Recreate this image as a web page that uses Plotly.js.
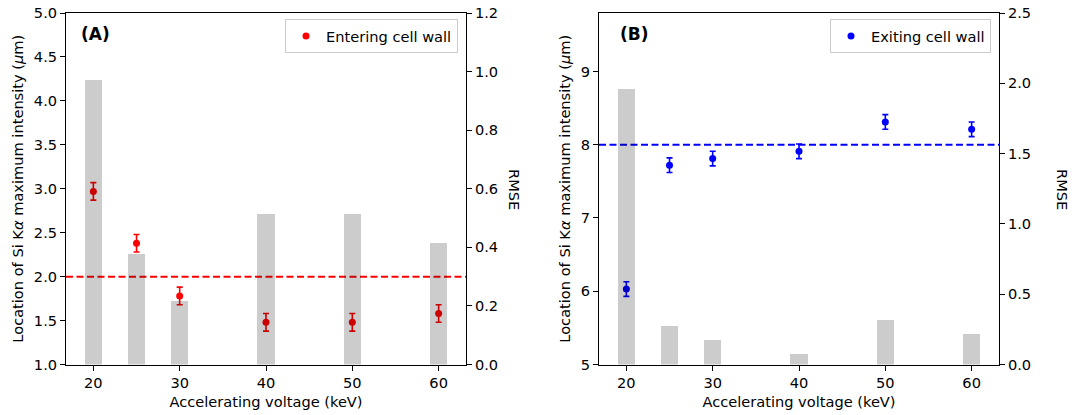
<!DOCTYPE html>
<html>
<head>
<meta charset="utf-8">
<script src="https://cdn.plot.ly/plotly-3.0.1.min.js"></script>
<style>html,body{margin:0;padding:0;background:#fff;}#chart{width:1080px;height:415px;}</style>
</head>
<body>
<div id="chart"></div>
<script>
// ---- data ----
const voltages = [20, 25, 30, 40, 50, 60];
const xTicks = [20, 30, 40, 50, 60];
const enterPeak = [2.97, 2.38, 1.78, 1.48, 1.48, 1.58];
const enterErr = [0.1, 0.1, 0.1, 0.1, 0.1, 0.1];
const enterRmse = [0.97, 0.377, 0.216, 0.513, 0.513, 0.414];
const exitPeak = [6.03, 7.72, 7.81, 7.91, 8.31, 8.21];
const exitErr = [0.1, 0.1, 0.1, 0.1, 0.1, 0.1];
const exitRmse = [1.96, 0.273, 0.173, 0.073, 0.315, 0.216];
const enterRef = 2.0;
const exitRef = 8.0;
const enterName = "Entering cell wall";
const exitName = "Exiting cell wall";

// ---- style ----
const FONT = "DejaVu Sans, sans-serif";
const FS = 14.6;
const barColor = "rgba(0,0,0,0.2)";
const W = 1080, H = 415;
const px = v => v / W;
const py = v => 1 - v / H;

const xDomA = [px(66), px(466)];
const xDomB = [px(599), px(999)];
const yDom = [py(364.5), py(13)];

const traces = [
  {x: voltages, y: enterPeak, type: "scatter", mode: "markers", name: enterName,
   xaxis: "x", yaxis: "y", legend: "legend",
   marker: {color: "#ff0000", size: 7},
   error_y: {type: "data", array: enterErr, visible: true, color: "#ff0000", thickness: 1.6, width: 3}},
  {x: voltages, y: enterRmse, type: "bar", width: 2, showlegend: false,
   xaxis: "x", yaxis: "y2", marker: {color: barColor, line: {width: 0}}},
  {x: voltages, y: exitPeak, type: "scatter", mode: "markers", name: exitName,
   xaxis: "x2", yaxis: "y3", legend: "legend2",
   marker: {color: "#0000ff", size: 7},
   error_y: {type: "data", array: exitErr, visible: true, color: "#0000ff", thickness: 1.6, width: 3}},
  {x: voltages, y: exitRmse, type: "bar", width: 2, showlegend: false,
   xaxis: "x2", yaxis: "y4", marker: {color: barColor, line: {width: 0}}}
];

const common = {
  showgrid: false, zeroline: false, showline: true, linecolor: "#000", linewidth: 1,
  ticks: "outside", ticklen: 5, tickwidth: 1, tickcolor: "#000",
  tickfont: {family: FONT, size: FS, color: "#000"}, automargin: false
};
const xCommon = Object.assign({}, common, {
  range: [16.83, 63.17], tickmode: "array", tickvals: xTicks, mirror: true,
  title: {text: "Accelerating voltage (keV)", font: {family: FONT, size: FS, color: "#000"}, standoff: 6}
});
const yTitle = "Location of Si K<i>α</i> maximum intensity (<i>μ</i>m)";

const layout = {
  width: W, height: H,
  margin: {l: 0, r: 0, t: 0, b: 0},
  paper_bgcolor: "#fff", plot_bgcolor: "rgba(0,0,0,0)",
  font: {family: FONT, size: FS, color: "#000"},
  bargap: 0,
  xaxis: Object.assign({}, xCommon, {domain: xDomA, anchor: "y"}),
  xaxis2: Object.assign({}, xCommon, {domain: xDomB, anchor: "y3"}),
  yaxis: Object.assign({}, common, {domain: yDom, anchor: "x", range: [1, 5], dtick: 0.5, tickformat: ".1f",
    title: {text: yTitle, font: {family: FONT, size: FS, color: "#000"}, standoff: 6}}),
  yaxis2: Object.assign({}, common, {overlaying: "y", side: "right", anchor: "x", range: [0, 1.2], dtick: 0.2, tickformat: ".1f"}),
  yaxis3: Object.assign({}, common, {domain: yDom, anchor: "x2", range: [5, 9.797], dtick: 1, tickformat: "d",
    title: {text: yTitle, font: {family: FONT, size: FS, color: "#000"}, standoff: 6}}),
  yaxis4: Object.assign({}, common, {overlaying: "y3", side: "right", anchor: "x2", range: [0, 2.5], dtick: 0.5, tickformat: ".1f"}),
  legend: {x: px(458), y: py(19), xanchor: "right", yanchor: "top", bgcolor: "rgba(255,255,255,0.8)",
    bordercolor: "#cccccc", borderwidth: 1, font: {family: FONT, size: FS, color: "#000"}},
  legend2: {x: px(991), y: py(19), xanchor: "right", yanchor: "top", bgcolor: "rgba(255,255,255,0.8)",
    bordercolor: "#cccccc", borderwidth: 1, font: {family: FONT, size: FS, color: "#000"}},
  shapes: [
    {type: "line", xref: "x domain", yref: "y", x0: 0, x1: 1, y0: enterRef, y1: enterRef,
     line: {color: "#ff0000", width: 2, dash: "7px,3.5px"}, layer: "below"},
    {type: "line", xref: "x2 domain", yref: "y3", x0: 0, x1: 1, y0: exitRef, y1: exitRef,
     line: {color: "#0000ff", width: 2, dash: "7px,3.5px"}, layer: "below"}
  ],
  annotations: [
    {text: "<b>(A)</b>", xref: "paper", yref: "paper", x: px(79), y: py(34), xanchor: "left", yanchor: "middle",
     showarrow: false, font: {family: FONT, size: 17, color: "#000"}},
    {text: "<b>(B)</b>", xref: "paper", yref: "paper", x: px(618), y: py(34), xanchor: "left", yanchor: "middle",
     showarrow: false, font: {family: FONT, size: 17, color: "#000"}},
    {text: "RMSE", xref: "paper", yref: "paper", x: px(515), y: py(189), xanchor: "center", yanchor: "middle",
     textangle: 90, showarrow: false, font: {family: FONT, size: FS, color: "#000"}},
    {text: "RMSE", xref: "paper", yref: "paper", x: px(1063), y: py(189), xanchor: "center", yanchor: "middle",
     textangle: 90, showarrow: false, font: {family: FONT, size: FS, color: "#000"}}
  ]
};

Plotly.newPlot("chart", traces, layout, {displayModeBar: false, staticPlot: true});
</script>
</body>
</html>
